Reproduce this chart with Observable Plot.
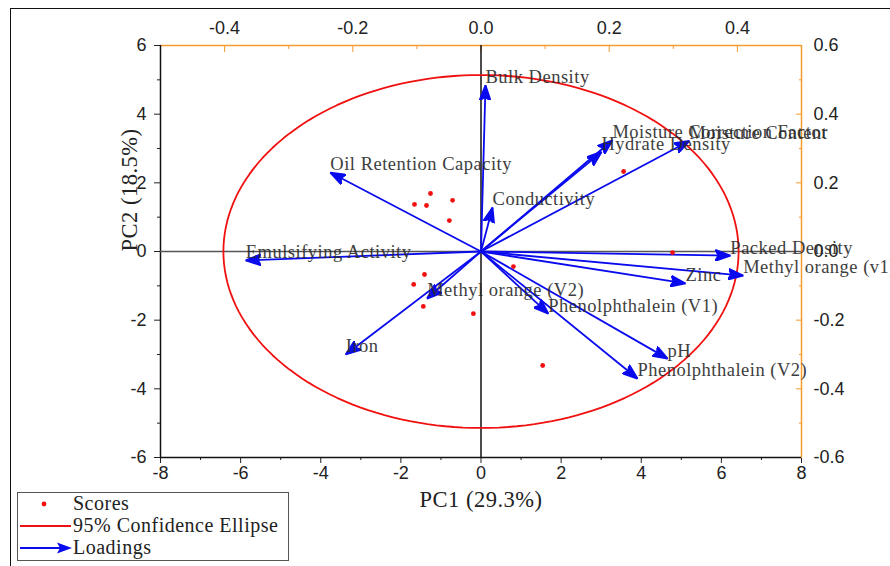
<!DOCTYPE html>
<html>
<head>
<meta charset="utf-8">
<script src="https://cdn.jsdelivr.net/npm/d3@7"></script>
<script src="https://cdn.jsdelivr.net/npm/@observablehq/plot@0.6"></script>
<style>
  html, body { margin: 0; padding: 0; background: #fff; }
  #wrap { position: relative; width: 890px; height: 566px; overflow: hidden; }
  #border { position: absolute; left: 10px; top: 8px; right: -2px; bottom: -2px; border-left: 1.5px solid #111; border-top: 1.5px solid #111; pointer-events: none; }
  #legend { position: absolute; left: 17px; top: 492px; width: 270px; height: 67px; border: 1px solid #555; background: #fff;
            font-family: "Liberation Serif", "DejaVu Serif", serif; font-size: 20px; color: #222; }
  #legend .row { position: absolute; left: 0; height: 22px; width: 270px; }
  #legend svg { position: absolute; left: 0; top: 0; }
  #legend span { position: absolute; left: 55px; top: -1px; letter-spacing: 0.5px; white-space: nowrap; line-height: 22px; }
</style>
</head>
<body>
<div id="wrap">
  <div id="chart"></div>
  <div id="border"></div>
  <div id="legend"></div>
</div>
<script>
// ---------- data ----------
// PCA scores (PC1, PC2)
const scorePC1 = [-1.26, -1.66, -1.36, -0.71, -0.79, -1.41, -1.68, -1.44, -0.19, 0.81, 4.78, 1.54, 3.56];
const scorePC2 = [ 1.69,  1.37,  1.34,  1.49,  0.90, -0.67, -0.96, -1.60, -1.81, -0.44, -0.03, -3.32, 2.33];

// loadings (top / right axes units)
const loadingNames = ["Bulk Density", "Oil Retention Capacity", "Conductivity", "Moisture Correction Factor",
  "Hydrate Density", "Moisture Content", "Packed Density", "Methyl orange (v1)", "Zinc",
  "Phenolphthalein (V1)", "pH", "Phenolphthalein (V2)", "Methyl orange (V2)", "Iron", "Emulsifying Activity"];
const loadingL1 = [0.007, -0.235, 0.018, 0.205, 0.188, 0.325, 0.389, 0.409, 0.319, 0.105, 0.291, 0.244, -0.084, -0.211, -0.367];
const loadingL2 = [0.484,  0.230, 0.128, 0.324, 0.290, 0.322, -0.012, -0.070, -0.093, -0.181, -0.312, -0.370, -0.137, -0.300, -0.026];

// 95% confidence ellipse parameters (PC units)
const ellipseCenter = [0, 0];
const ellipseRadii = [6.43, 5.14];

// axes
const pc1Domain = [-8, 8];
const pc2Domain = [-6, 6];
const loadXDomain = [-0.5, 0.5];
const loadYDomain = [-0.6, 0.6];
const bottomTicks = [-8, -6, -4, -2, 0, 2, 4, 6, 8];
const leftTicks = [-6, -4, -2, 0, 2, 4, 6];
const topTicks = [-0.4, -0.2, 0.0, 0.2, 0.4];
const rightTicks = [-0.6, -0.4, -0.2, 0.0, 0.2, 0.4, 0.6];
const xLabel = "PC1 (29.3%)";
const yLabel = "PC2 (18.5%)";
const legendLabels = ["Scores", "95% Confidence Ellipse", "Loadings"];

// ---------- build ----------
const RED = "#f01010", BLUE = "#0a0aee", ORANGE = "#f59a2c", SERIF = "'Liberation Serif', 'DejaVu Serif', serif";
const xRatio = pc1Domain[1] / loadXDomain[1];   // loadings -> PC1 axis units
const yRatio = pc2Domain[1] / loadYDomain[1];   // loadings -> PC2 axis units

const scores = scorePC1.map((x, i) => ({x, y: scorePC2[i]}));
const loadings = loadingNames.map((name, i) => ({name, x: loadingL1[i] * xRatio, y: loadingL2[i] * yRatio}));
const ellipse = d3.range(0, 361, 2).map(a => {
  const t = a * Math.PI / 180;
  return {x: ellipseCenter[0] + ellipseRadii[0] * Math.cos(t), y: ellipseCenter[1] + ellipseRadii[1] * Math.sin(t)};
});

const minor = (ticks) => d3.range(ticks.length - 1).map(i => (ticks[i] + ticks[i + 1]) / 2);
const fmt1 = d => {
  const v = Math.round(d * 10) / 10;
  return (v === 0 ? 0 : v).toFixed(1);
};

function filledArrow(color) {
  const m = d3.create("svg:marker")
    .attr("viewBox", "-15 -6 16 12")
    .attr("markerWidth", 16).attr("markerHeight", 12)
    .attr("markerUnits", "userSpaceOnUse")
    .attr("orient", "auto").attr("refX", 0).attr("refY", 0);
  m.append("path").attr("fill", color).attr("d", "M-15,-5.5L0,0L-15,5.5L-12,0Z");
  return m.node();
}

const plot = Plot.plot({
  width: 890,
  height: 566,
  marginLeft: 160,
  marginRight: 89,
  marginTop: 45,
  marginBottom: 109,
  style: {fontFamily: "'Liberation Sans', Arial, sans-serif", fontSize: "18px", color: "#222", background: "#fff", overflow: "visible"},
  x: {domain: pc1Domain},
  y: {domain: pc2Domain},
  marks: [
    // axes (bottom / left, black)
    Plot.axisX({ticks: bottomTicks, tickSize: 6, tickPadding: 3, label: null, tickFormat: d => String(d)}),
    Plot.axisX({ticks: minor(bottomTicks), tickSize: 3, tickFormat: () => "", label: null}),
    Plot.axisY({ticks: leftTicks, tickSize: 6, tickPadding: 8, label: null, tickFormat: d => String(d)}),
    Plot.axisY({ticks: minor(leftTicks), tickSize: 3, tickFormat: () => "", label: null}),
    // axes (top / right, orange, loadings)
    Plot.axisX({anchor: "top", ticks: topTicks.map(v => v * xRatio), tickSize: -6, tickPadding: 18, stroke: ORANGE, tickFormat: d => fmt1(d / xRatio), label: null}),
    Plot.axisX({anchor: "top", ticks: minor([-0.6, ...topTicks, 0.6]).map(v => v * xRatio), tickSize: -3, tickFormat: () => "", stroke: ORANGE, label: null}),
    Plot.axisY({anchor: "right", ticks: rightTicks.map(v => v * yRatio), tickSize: -6, tickPadding: 18, stroke: ORANGE, tickFormat: d => fmt1(d / yRatio), label: null}),
    Plot.axisY({anchor: "right", ticks: minor(rightTicks).map(v => v * yRatio), tickSize: -3, tickFormat: () => "", stroke: ORANGE, label: null}),
    // frame lines
    Plot.ruleY([pc2Domain[1]], {stroke: ORANGE, strokeWidth: 1.5}),
    Plot.ruleX([pc1Domain[1]], {stroke: ORANGE, strokeWidth: 1.5}),
    Plot.ruleX([pc1Domain[0]], {stroke: "#111", strokeWidth: 1.5}),
    Plot.ruleY([pc2Domain[0]], {stroke: "#111", strokeWidth: 1.5}),
    // zero lines
    Plot.ruleY([0], {stroke: "#555", strokeWidth: 1.5}),
    Plot.ruleX([0], {stroke: "#111", strokeWidth: 1.5}),
    // ellipse
    Plot.line(ellipse, {x: "x", y: "y", stroke: RED, strokeWidth: 1.8}),
    // loadings arrows
    Plot.link(loadings, {x1: 0, y1: 0, x2: "x", y2: "y", stroke: BLUE, strokeWidth: 1.8, markerEnd: filledArrow}),
    // scores
    Plot.dot(scores, {x: "x", y: "y", r: 2.4, fill: RED}),
    // loading labels
    Plot.text(loadings, {x: "x", y: "y", text: "name", textAnchor: "start", dy: -8, fontFamily: SERIF, fontSize: 18.5, fill: "#2a2a2a", opacity: 0.9}),
    // axis titles
    Plot.text([xLabel], {frameAnchor: "bottom", dy: 49, text: d => d, fontFamily: SERIF, fontSize: 22.5, fill: "#222"}),
    Plot.text([yLabel], {frameAnchor: "left", dx: -31, rotate: -90, text: d => d, fontFamily: SERIF, fontSize: 22.5, fill: "#222"})
  ]
});
// slightly wider letter spacing for the serif texts, as in the reference
d3.select(plot).selectAll('g[aria-label="text"]').attr("letter-spacing", "0.5px");
document.getElementById("chart").appendChild(plot);

// ---------- legend ----------
const legend = d3.select("#legend");
legendLabels.forEach((label, i) => {
  const row = legend.append("div").attr("class", "row").style("top", `${i * 22}px`);
  const svg = row.append("svg").attr("width", 56).attr("height", 22);
  if (i === 0) svg.append("circle").attr("cx", 26).attr("cy", 11).attr("r", 2.4).attr("fill", RED);
  if (i === 1) svg.append("line").attr("x1", 2).attr("x2", 53).attr("y1", 11).attr("y2", 11).attr("stroke", RED).attr("stroke-width", 2);
  if (i === 2) {
    svg.append("line").attr("x1", 2).attr("x2", 42).attr("y1", 11).attr("y2", 11).attr("stroke", BLUE).attr("stroke-width", 2);
    svg.append("path").attr("d", "M39,5.5L54,11L39,16.5L42,11Z").attr("fill", BLUE);
  }
  row.append("span").text(label);
});
</script>
</body>
</html>
